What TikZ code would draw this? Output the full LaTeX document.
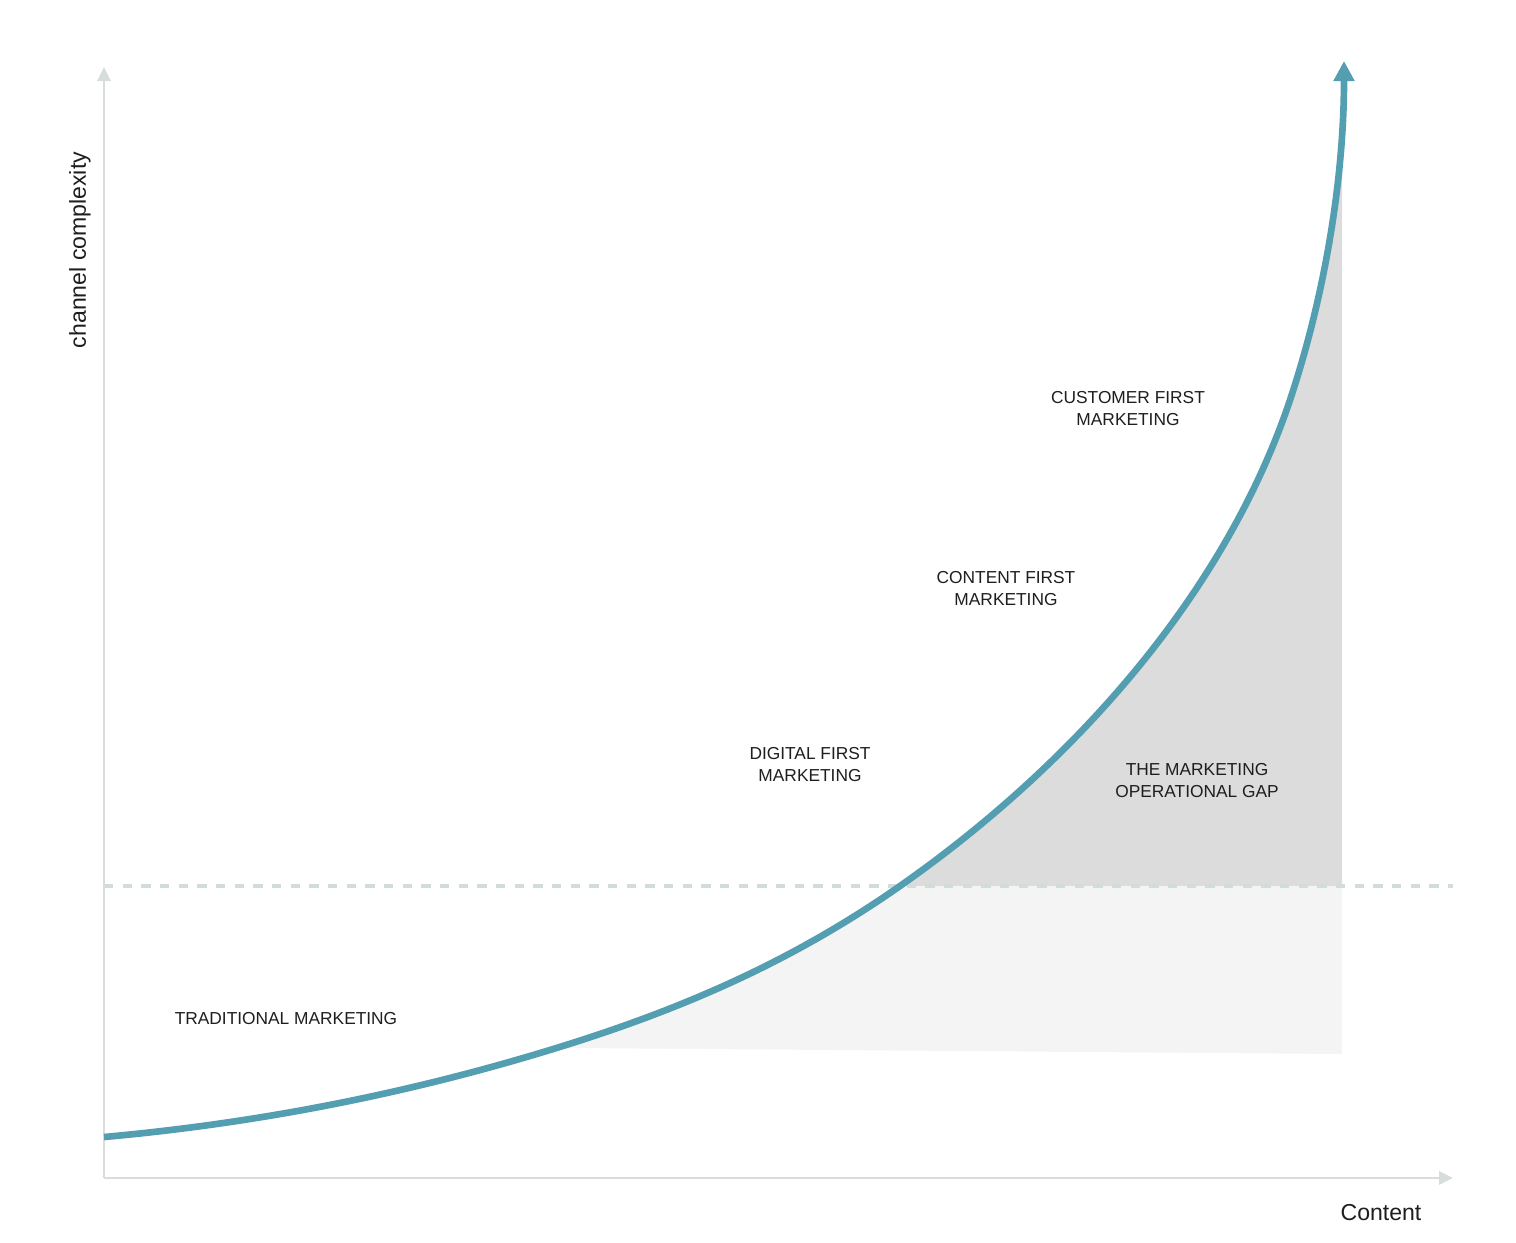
\documentclass[tikz,border=0pt]{standalone}
\usepackage{fontspec}
\setmainfont{Liberation Sans}
\usetikzlibrary{arrows.meta}
\definecolor{teal1}{HTML}{539FB1}
\definecolor{axisgray}{HTML}{D6DDDB}
\definecolor{dashgray}{HTML}{D2DDDA}
\definecolor{gapgray}{HTML}{DCDCDC}
\definecolor{lightgray1}{HTML}{F4F4F4}
\definecolor{ink}{HTML}{1E1E1E}
\begin{document}
\begin{tikzpicture}[x=0.75pt,y=-0.75pt,
 axisline/.style={draw=axisgray,line width=1.5pt,-{Triangle[width=10pt,length=10.5pt]}},
 curveline/.style={draw=teal1,line width=5pt,-{Triangle[width=15pt,length=15pt]}},
 dashline/.style={draw=dashgray,line width=3.5pt,dash pattern=on 7pt off 7pt},
 lbl/.style={text=ink,font=\fontsize{13}{16.5}\selectfont,align=center,inner sep=0pt},
 axlbl/.style={text=ink,font=\fontsize{17.3}{20}\selectfont,inner sep=0pt}]
\useasboundingbox (0,0) rectangle (1516,1242);
\coordinate (o) at (104,1178);
\coordinate (ytop) at (104,67);
\coordinate (xend) at (1453,1178);
\coordinate (dl) at (104,886);
\coordinate (dr) at (1453,886);
\coordinate (cs) at (104,1137);
\coordinate (ce) at (1344,61);
% dark gap area
\begin{scope}
\clip (0,0) rectangle (1342,886);
\fill[gapgray] (cs) .. controls (249.3,1123.9) and (394.7,1096.6) .. (540,1053)
  .. controls (660,1017) and (780,970) .. (900,886)
  .. controls (1070,767) and (1224,597) .. (1290,400)
  .. controls (1326,291.8) and (1344,175) .. (ce)
  -- (1420,0) -- (1420,1242) -- (104,1242) -- cycle;
\end{scope}
% light area
\begin{scope}
\clip (0,886) -- (1342,886) -- (1342,1054) -- (575,1048) -- (0,1048) -- cycle;
\fill[lightgray1] (cs) .. controls (249.3,1123.9) and (394.7,1096.6) .. (540,1053)
  .. controls (660,1017) and (780,970) .. (900,886)
  .. controls (1070,767) and (1224,597) .. (1290,400)
  .. controls (1326,291.8) and (1344,175) .. (ce)
  -- (1420,0) -- (1420,1242) -- (104,1242) -- cycle;
\end{scope}
% dashed threshold
\draw[dashline] (dl) -- (dr);
% axes
\draw[axisline] (o) -- (ytop);
\draw[axisline] (o) -- (xend);
% growth curve
\draw[curveline] (cs) .. controls (249.3,1123.9) and (394.7,1096.6) .. (540,1053)
  .. controls (660,1017) and (780,970) .. (900,886)
  .. controls (1070,767) and (1224,597) .. (1290,400)
  .. controls (1326,291.8) and (1344,175) .. (ce);
% labels
\node[axlbl,rotate=90] (ylab) at (80,250) {channel complexity};
\node[axlbl] (xlab) at (1381,1213) {Content};
\node[lbl] (trad) at (286,1019) {TRADITIONAL MARKETING};
\node[lbl] (digital) at (810,765) {DIGITAL FIRST\\MARKETING};
\node[lbl] (content) at (1006,589) {CONTENT FIRST\\MARKETING};
\node[lbl] (customer) at (1128,409) {CUSTOMER FIRST\\MARKETING};
\node[lbl] (gap) at (1197,781) {THE MARKETING\\OPERATIONAL GAP};
\end{tikzpicture}
\end{document}
